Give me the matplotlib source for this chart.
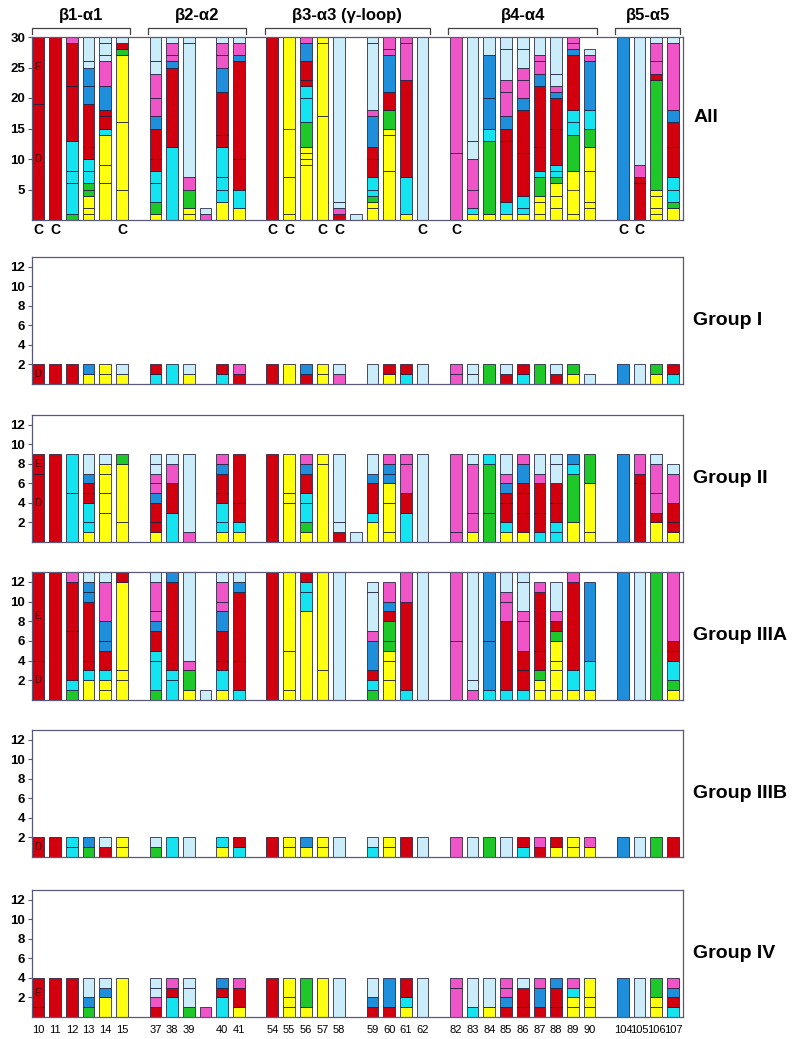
import matplotlib
matplotlib.use("Agg")
import matplotlib.pyplot as plt

plt.rcParams['font.family'] = ['Liberation Sans', 'DejaVu Sans']

# regioni e residui (stringa vuota = barra senza etichetta)
REGIONS = ["β1-α1", "β2-α2", "β3-α3 (γ-loop)", "β4-α4", "β5-α5"]
RESIDUES = [
    ["10", "11", "12", "13", "14", "15"],
    ["37", "38", "39", "", "40", "41"],
    ["54", "55", "56", "57", "58", "", "59", "60", "61", "62"],
    ["82", "83", "84", "85", "86", "87", "88", "89", "90"],
    ["104", "105", "106", "107"],
]
CYS = ["10", "11", "15", "54", "55", "57", "58", "62", "82", "104", "105"]

# segmenti dal basso verso l'alto: lettera colore + conteggio
ALL = ["R19 R11", "R30", "G1 C5 C2 C5 R9 R7 M1",
       "Y1 Y1 Y2 G1 G1 C2 C2 R2 R7 B3 B3 L1 L4", "Y6 Y3 Y5 C1 R2 R1 B4 M4 L1 L2 L1",
       "Y5 Y11 Y11 G1 R1 L1",
       "Y1 G2 C3 C2 R2 R5 B2 M3 M4 L2 L4", "C12 R13 B1 M1 M2 L1", "Y1 Y1 G3 M2 L22 L1",
       "M1 L1", "Y3 C2 C2 C5 R2 R7 B4 M2 M2 L1", "Y2 C3 R5 R16 B1 M2 L1",
       "R30", "Y1 Y6 Y8 Y15", "Y9 Y1 Y1 Y1 G4 C4 C2 R1 R3 B3 M1", "Y17 Y12 Y1",
       "R1 M1 L1 L27", "L1", "Y2 Y1 G1 C1 C2 R3 R2 B5 M1 L11 L1",
       "Y8 Y6 Y1 G3 R3 B6 M1 M2", "Y1 C6 R16 M6 M1", "L30",
       "M11 M19", "Y1 C1 M3 M5 L3 L17", "Y1 G12 C2 B5 B7 L3",
       "Y1 C2 R10 R2 B2 M4 M2 L5 L2", "Y1 C1 C2 R7 R7 B2 M3 M2 L3 L2",
       "Y1 Y2 Y1 G3 C1 R4 R10 B2 M2 M1 L3", "Y2 Y2 Y2 G1 C1 C1 R6 R5 B1 M1 L2 L6",
       "Y1 Y4 Y3 G6 C2 C2 R9 B1 M1 M1", "Y2 Y1 Y5 Y4 G3 C3 B8 M1 L1",
       "B30", "R6 R1 M2 L21", "Y1 Y1 Y2 Y1 G18 R1 M2 M3 L1", "Y2 G1 C2 C2 R5 R4 B2 M11 L1"]

GROUP_I = ["R2", "R2", "R2", "Y1 B1", "Y1 Y1", "Y1 L1",
           "C1 R1", "C2", "Y1 L1", "", "C1 R1", "R1 M1",
           "R2", "Y2", "R1 B1", "Y1 Y1", "M1 L1", "", "L2", "Y1 R1", "C1 R1", "L2",
           "M1 M1", "L1 L1", "G2", "R1 L1", "C1 R1", "G2", "R1 L1", "Y1 G1", "L1",
           "B2", "L2", "Y1 G1", "C1 R1"]

GROUP_II = ["R7 R2", "R9", "C5 C4", "Y1 C1 C2 R1 R1 B1 L2", "Y3 Y2 Y2 Y1 L1", "Y2 Y6 G1",
            "Y1 R1 R2 B1 M1 M1 L1 L1", "C3 R3 M2 L1", "M1 L8", "", "Y1 C1 C2 R1 R2 B1 M1",
            "Y1 C1 R2 R5",
            "R9", "Y4 Y1 Y4", "Y1 G1 C2 C1 R2 B1 M1", "Y8 Y1", "R1 L1 L7", "L1",
            "Y2 C1 R3 B1 L2", "Y1 Y3 Y2 B1 B1 M1", "C3 R2 M3 M1", "L9",
            "M1 M8", "Y1 M2 M5 L1", "G3 G5 C1", "Y1 C1 R2 R1 B1 M1 L2", "Y1 R2 R2 R1 B2 M1",
            "C1 R2 R3 M1 L2", "C1 C1 R2 R2 L2 L1", "Y2 G5 C1 B1", "Y1 Y5 G3",
            "B9", "R6 R1 M2", "Y2 R1 M2 M3 L1", "Y1 R1 R2 M3 L1"]

GROUP_IIIA = ["R4 R9", "R13", "G1 C1 R5 R5 M1", "Y2 C1 R1 R6 B1 B1 L1",
              "Y1 Y1 C1 R2 B1 B2 M4 L1", "Y2 Y1 Y9 R1",
              "G1 C3 C1 R2 B1 M1 M3 L1", "C2 C1 R9 B1", "Y1 G2 M1 L9", "L1",
              "Y1 C2 R1 R3 B2 M1 M2 L1", "C1 R3 R7 B1 L1",
              "R13", "Y1 Y4 Y8", "Y9 C2 C1 R1", "Y3 Y10", "L13", "",
              "G1 C1 R1 B3 M1 L4 L1", "Y2 Y2 Y1 G1 G2 R1 B1 M2", "C1 R9 M3", "L13",
              "M6 M7", "M1 L1 L11", "C1 B5 B7", "C1 R7 M2 M1 L2", "C1 R2 R2 M3 M1 L3 L1",
              "Y1 Y1 G1 R2 R6 M1", "Y1 Y2 Y1 Y2 G1 R1 M1 L3", "Y1 C2 R9 M1", "Y1 C3 B8",
              "B13", "L13", "G13", "Y1 G1 C2 R1 R1 M7"]

GROUP_IIIB = ["R2", "R2", "C1 C1", "G1 B1", "R1 L1", "Y1 Y1",
              "G1 L1", "C2", "L2", "", "Y1 C1", "C1 R1",
              "R2", "Y1 Y1", "Y1 B1", "Y1 Y1", "L2", "", "C1 L1", "Y1 Y1", "R2", "L2",
              "M2", "L2", "G2", "L2", "C1 R1", "R1 M1", "Y1 R1", "Y1 Y1", "Y1 M1",
              "B2", "L2", "G2", "R2"]

GROUP_IV = ["R1 R3", "R4", "R4", "G1 B1 L2", "Y2 B1 L1", "Y4",
            "R1 M1 L1 L1", "C2 R1 M1", "G1 L2 L1", "M1", "C2 R1 B1", "Y1 R2 M1",
            "R4", "Y1 Y1 Y2", "Y1 G3", "Y4", "L4", "", "R1 B1 L2", "R1 B3", "Y1 C1 R2", "L4",
            "M3 M1", "C1 L3", "Y1 L3", "R1 B1 M1 M1", "R1 R2 L1", "R1 B2 M1", "R1 R2 B1",
            "Y1 Y1 C1 M1", "Y1 Y1 Y2",
            "B4", "L4", "Y1 Y1 G2", "C1 R1 B1 M1"]

PANELS = ["All", "Group I", "Group II", "Group IIIA", "Group IIIB", "Group IV"]
DATA = [ALL, GROUP_I, GROUP_II, GROUP_IIIA, GROUP_IIIB, GROUP_IV]
LETTERS = [[("E", 25), ("D", 10)], [("D", 1)], [("E", 8), ("D", 4)],
           [("E", 8.5), ("D", 2)], [("D", 1)], [("E", 2.5)]]

COL = {"R": "#d2000f", "Y": "#ffff10", "C": "#14e4f0", "L": "#cbedfa",
       "B": "#1f8fdc", "M": "#f055c8", "G": "#1ec828"}
EDGE = "#1c1c3a"
FRAME = "#5a5a78"

# posizioni: barre consecutive, uno slot vuoto fra le regioni
xs, labels, spans = [], [], []
pos = 0
for res in RESIDUES:
    spans.append((pos, pos + len(res) - 1))
    for r in res:
        xs.append(pos)
        labels.append(r)
        pos += 1
    pos += 1
XMIN, XMAX = -0.39, pos - 1.4

W, H = 800, 1039
fig = plt.figure(figsize=(W / 100, H / 100), dpi=100)
tops = [37, 257, 415, 572, 730, 890]
hts = [183, 127, 127, 128, 127, 127]

for k, (name, bars) in enumerate(zip(PANELS, DATA)):
    ax = fig.add_axes([32 / W, 1 - (tops[k] + hts[k]) / H, 651 / W, hts[k] / H])
    for x, s in zip(xs, bars):
        base = 0
        for seg in s.split():
            n = int(seg[1:])
            ax.bar(x, n, 0.7, bottom=base, color=COL[seg[0]], edgecolor=EDGE, linewidth=0.55)
            base += n
    top = 30 if k == 0 else 13
    ax.set_xlim(XMIN, XMAX)
    ax.set_ylim(0, top)
    if k == 0:
        ax.set_yticks(range(5, 31, 5))
    else:
        ax.set_yticks(range(2, 13, 2))
    ax.tick_params(axis="y", length=3, width=0.8, pad=2, color=FRAME,
                   labelsize=9.5)
    for t in ax.get_yticklabels():
        t.set_fontweight("bold")
    for sp in ax.spines.values():
        sp.set_color(FRAME)
        sp.set_linewidth(0.9)
    if k == len(PANELS) - 1:
        ax.set_xticks(xs, labels)
        ax.tick_params(axis="x", length=0, pad=6, labelsize=8)
    else:
        ax.set_xticks([])
    for txt, yv in LETTERS[k]:
        ax.text(xs[0] - 0.05, yv, txt, ha="center", va="center", fontsize=7, color="#4a0000")
    ax.text(1.016, 0.5 if k else 0.56, name, transform=ax.transAxes, ha="left", va="center",
            fontsize=14, fontweight="bold")

    if k == 0:
        for x, r in zip(xs, labels):
            if r in CYS:
                ax.text(x, -1.7, "C", ha="center", va="center", fontsize=10,
                        fontweight="bold", clip_on=False)
        for (a, b), reg in zip(spans, REGIONS):
            x0, x1 = max(a - 0.45, XMIN), b + 0.45
            ax.plot([x0, x0, x1, x1], [30.5, 31.4, 31.4, 30.5], color="#444444",
                    lw=0.9, clip_on=False)
            ax.text((x0 + x1) / 2, 33.6, reg, ha="center", va="center", fontsize=12,
                    fontweight="bold", clip_on=False)

fig.savefig("out.png", dpi=100)
